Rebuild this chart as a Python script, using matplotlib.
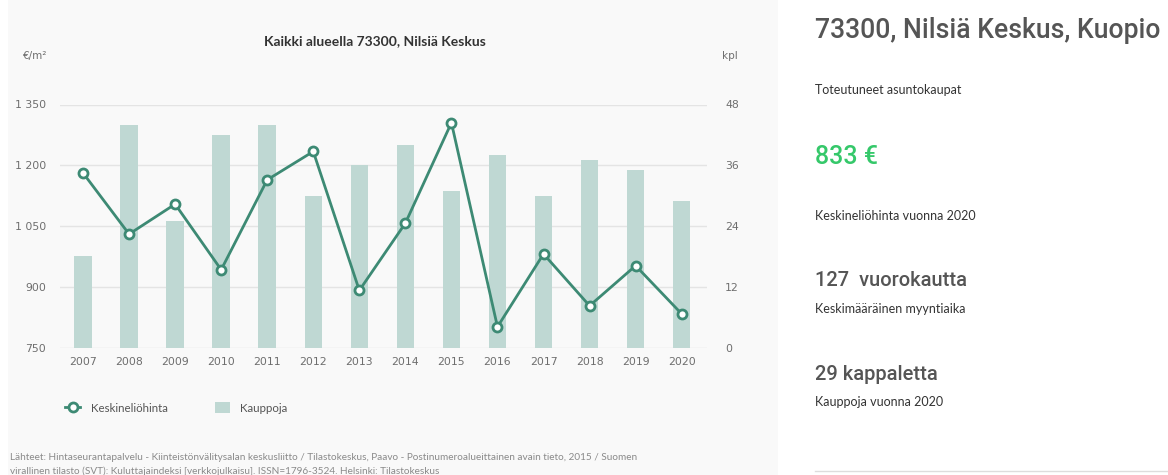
import matplotlib
matplotlib.use("Agg")
import matplotlib.pyplot as plt
from matplotlib.lines import Line2D
from matplotlib.patches import Patch, Rectangle

PANEL, INK, INK2, MUTED, GRID = "#f9f9f9", "#333333", "#555555", "#6e6e6e", "#e4e4e4"
LINE, BAR, GREEN = "#3d8a74", "#bfd8d3", "#35c86a"
FONT = "Lato"
HEAD = "Roboto"

years = list(range(2007, 2021))
price_m2 = [1181, 1030, 1104, 942, 1164, 1234, 891, 1057, 1305, 801, 981, 853, 952, 833]
sales = [18, 44, 25, 42, 44, 30, 36, 40, 31, 38, 30, 37, 35, 29]
left_ticks = [750, 900, 1050, 1200, 1350]
right_ticks = [0, 12, 24, 36, 48]

fig = plt.figure(figsize=(11.68, 4.75), dpi=100, facecolor="white")
fig.patches.append(Rectangle((8 / 1168, 0), 770 / 1168, 1, transform=fig.transFigure,
                             facecolor=PANEL, edgecolor="none", zorder=-10))

ax = fig.add_axes([60 / 1168, 127.5 / 475, 647 / 1168, 243 / 475])
ax2 = ax.twinx()
ax.set_zorder(ax2.get_zorder() + 1)
ax.patch.set_visible(False)
ax2.patch.set_visible(False)

# bars (kpl) on the right axis, behind the price line
ax2.bar(years, sales, width=0.38, color=BAR, zorder=2)
ax2.set_ylim(0, 48)
ax2.set_yticks(right_ticks)
ax2.set_yticklabels([str(t) for t in right_ticks])
ax2.grid(axis="y", color=GRID, lw=1, zorder=0)
ax2.set_axisbelow(True)

ax.plot(years, price_m2, color=LINE, lw=2, marker="o", ms=6.5, mfc="white",
        mec=LINE, mew=2, zorder=3)
ax.set_ylim(750, 1350)
ax.set_yticks(left_ticks)
ax.set_yticklabels([f"{t:,}".replace(",", " ") for t in left_ticks])
ax.set_xlim(2006.5, 2020.55)
ax.set_xticks(years)

for a in (ax, ax2):
    for s in a.spines.values():
        s.set_visible(False)
    a.tick_params(length=0, colors=MUTED, labelsize=7.8)
ax.tick_params(axis="y", pad=10)
ax2.tick_params(axis="y", pad=13)
ax.tick_params(axis="x", pad=7)

fig.text(375 / 1168, 1 - 41 / 475, "Kaikki alueella 73300, Nilsiä Keskus", ha="center",
         va="center", fontsize=10, fontweight="bold", color=INK, family=FONT)
fig.text(35 / 1168, 1 - 56 / 475, "€/m²", ha="center", va="center", fontsize=7.5,
         color=MUTED)
fig.text(730 / 1168, 1 - 56 / 475, "kpl", ha="center", va="center", fontsize=7.5,
         color=MUTED)

handles = [Line2D([], [], color=LINE, lw=2, marker="o", ms=6.5, mfc="white",
                  mec=LINE, mew=2),
           Patch(facecolor=BAR, edgecolor="none")]
fig.legend(handles, ["Keskineliöhinta", "Kauppoja"], loc="center left",
           bbox_to_anchor=(55 / 1168, 1 - 408 / 475), ncol=2, frameon=False,
           handlelength=1.3, handleheight=1.0, columnspacing=4.1, handletextpad=0.9,
           prop={"family": FONT, "size": 8.3}, labelcolor=INK2)

fig.text(10 / 1168, 1 - 458 / 475,
         "Lähteet: Hintaseurantapalvelu - Kiinteistönvälitysalan keskusliitto / Tilastokeskus, "
         "Paavo - Postinumeroalueittainen avain tieto, 2015 / Suomen",
         ha="left", va="center", fontsize=7.2, color="#8a8a8a", family=FONT)
fig.text(10 / 1168, 1 - 471 / 475,
         "virallinen tilasto (SVT): Kuluttajaindeksi [verkkojulkaisu]. ISSN=1796-3524. "
         "Helsinki: Tilastokeskus",
         ha="left", va="center", fontsize=7.2, color="#8a8a8a", family=FONT)

# summary column on the right
x0 = 815 / 1168
fig.text(x0, 1 - 31 / 475, "73300, Nilsiä Keskus, Kuopio", ha="left", va="center",
         fontsize=19.2, fontweight="medium", color=INK2, family=HEAD)
fig.text(x0, 1 - 90 / 475, "Toteutuneet asuntokaupat", ha="left", va="center",
         fontsize=9, color=INK, family=FONT)
fig.text(x0, 1 - 157 / 475, f"{price_m2[-1]} €", ha="left", va="center",
         fontsize=18, fontweight="medium", color=GREEN, family=HEAD)
fig.text(x0, 1 - 216 / 475, "Keskineliöhinta vuonna 2020", ha="left", va="center",
         fontsize=9, color=INK, family=FONT)
fig.text(x0, 1 - 280 / 475, "127  vuorokautta", ha="left", va="center",
         fontsize=14.5, fontweight="medium", color=INK2, family=HEAD)
fig.text(x0, 1 - 309 / 475, "Keskimääräinen myyntiaika", ha="left", va="center",
         fontsize=9, color=INK, family=FONT)
fig.text(x0, 1 - 375 / 475, f"{sales[-1]} kappaletta", ha="left", va="center",
         fontsize=14.5, fontweight="medium", color=INK2, family=HEAD)
fig.text(x0, 1 - 402 / 475, "Kauppoja vuonna 2020", ha="left", va="center",
         fontsize=9, color=INK, family=FONT)
fig.add_artist(Line2D([x0, 1], [1 - 471 / 475] * 2, transform=fig.transFigure,
                      color="#dddddd", lw=1))

fig.savefig("out.png", dpi=100, facecolor="white")
